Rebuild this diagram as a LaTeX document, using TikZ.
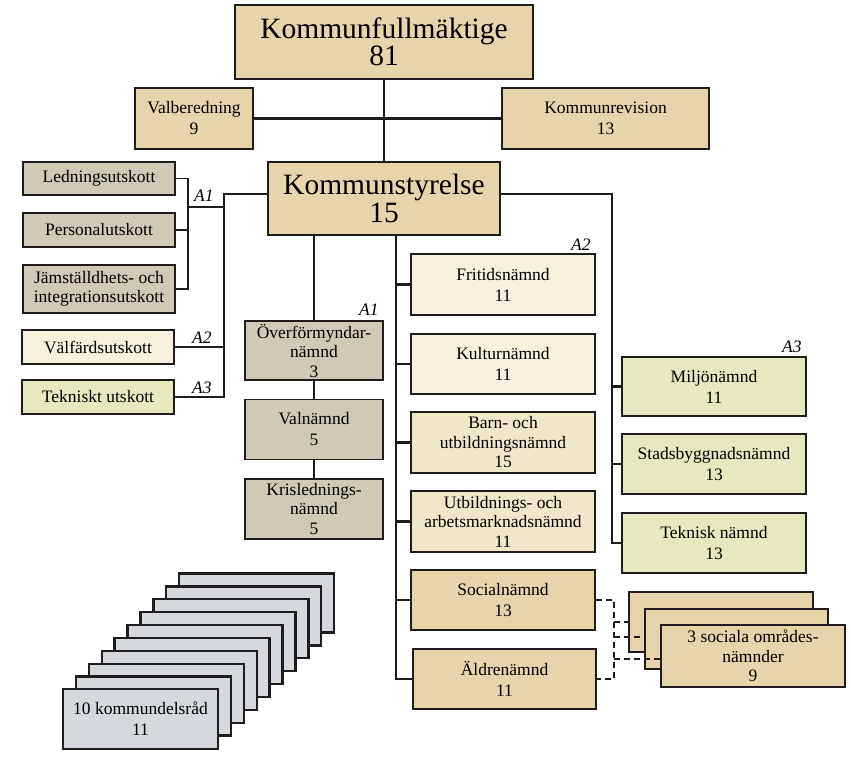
\documentclass[tikz,border=0pt]{standalone}
\usepackage{fontspec}
\setmainfont{Liberation Serif}
\usetikzlibrary{calc}
\definecolor{beige}{RGB}{230,213,170}
\definecolor{gragul}{RGB}{209,201,183}
\definecolor{creme}{RGB}{247,240,223}
\definecolor{ljusbeige}{RGB}{240,230,200}
\definecolor{gron}{RGB}{232,232,190}
\definecolor{blagra}{RGB}{213,216,220}
\definecolor{linje}{RGB}{30,28,28}
\tikzset{
  box/.style={draw=linje, line width=1.3pt, align=center, inner sep=0pt,
    font=\fontsize{17.5}{21}\selectfont},
  tre/.style={font=\fontsize{17.5}{19.5}\selectfont},
  bigbox/.style={box, font=\fontsize{29.5}{27.5}\selectfont},
  sz/.style 2 args={minimum width=#1pt, minimum height=#2pt},
  conn/.style={draw=linje, line width=2.3pt},
  streck/.style={conn, line width=1.8pt, dash pattern=on 6pt off 4pt},
  lab/.style={inner sep=0pt, anchor=base west, font=\fontsize{17.5}{20}\selectfont\itshape},
}

\begin{document}
\begin{tikzpicture}[x=1pt, y=-1pt]
	\useasboundingbox (0,0) rectangle (851,756);

	% fullmaktige och styrelse
	\node[bigbox, sz={298}{74}, fill=beige] (kf) at (384,42) {Kommunfullm\"aktige\\81};
	\node[box, sz={118}{61}, fill=beige] (valb) at (194,118.5) {Valberedning\\9};
	\node[box, sz={207}{61}, fill=beige] (krev) at (605.5,118.5) {Kommunrevision\\13};
	\node[bigbox, sz={232}{73}, fill=beige] (ks) at (384,198.5) {Kommunstyrelse\\15};

	\draw[conn] (kf) -- (ks);
	\draw[conn] (valb) -- (krev);

	% utskott
	\node[box, sz={152}{33}, fill=gragul] (led) at (99,178.5) {Ledningsutskott};
	\node[box, sz={152}{34}, fill=gragul] (pers) at (99,230) {Personalutskott};
	\node[box, tre, sz={152}{48}, fill=gragul] (jam) at (99,289) {J\"amst\"alldhets- och\\integrationsutskott};
	\node[box, sz={152}{34}, fill=creme] (valf) at (98,347) {V\"alf\"ardsutskott};
	\node[box, sz={152}{34}, fill=gron] (tekut) at (98,397) {Tekniskt utskott};

	\coordinate (klamm) at (188,207);
	\coordinate (vbuss) at (224,194);
	\draw[draw=linje, line width=1.2pt] (led.east) -| (klamm|-jam.east) -- (jam.east);
	\draw[draw=linje, line width=1.2pt] (pers.east) -- (pers.east-|klamm);
	\draw[conn] (klamm) -- (klamm-|vbuss);
	\draw[conn] (ks.west|-vbuss) -- (vbuss) |- (tekut.east);
	\draw[conn] (valf.east) -- (valf.east-|vbuss);

	\node[lab] (la1) at (194,201) {A1};
	\node[lab] (la2) at (192,343) {A2};
	\node[lab] (la3) at (192,393) {A3};

	% namnder A1
	\node[box, tre, sz={138}{59}, fill=gragul] (overf) at (314,350.5) {\"Overf\"ormyndar-\\n\"amnd\\3};
	\node[box, sz={138}{60}, fill=gragul] (valn) at (314,429.5) {Valn\"amnd\\5};
	\node[box, tre, sz={138}{60}, fill=gragul] (kris) at (314,509) {Krislednings-\\n\"amnd\\5};
	\node[lab] (lb1) at (359,315) {A1};

	\draw[conn] (ks.south-|overf) -- (overf);
	\draw[conn] (overf) -- (valn);
	\draw[conn] (valn) -- (kris);

	% namnder A2
	\node[box, sz={184}{61}, fill=creme] (frit) at (503,284.5) {Fritidsn\"amnd\\11};
	\node[box, sz={184}{60}, fill=creme] (kult) at (503,364) {Kulturn\"amnd\\11};
	\node[box, tre, sz={184}{61}, fill=ljusbeige] (barn) at (503,442.5) {Barn- och\\utbildningsn\"amnd\\15};
	\node[box, tre, sz={184}{61}, fill=ljusbeige] (utb) at (503,521.5) {Utbildnings- och\\arbetsmarknadsn\"amnd\\11};
	\node[box, sz={184}{60}, fill=beige] (soc) at (503,600) {Socialn\"amnd\\13};
	\node[box, sz={183}{60}, fill=beige] (aldr) at (504.5,679) {\"Aldren\"amnd\\11};
	\node[lab] (lc2) at (571,250) {A2};

	\coordinate (hbuss) at (396,0);
	\draw[conn] (ks.south-|hbuss) |- (aldr.west);
	\foreach \n in {frit,kult,barn,utb,soc}
		\draw[conn] (\n.west) -- (\n.west-|hbuss);

	% namnder A3
	\node[box, sz={184}{59}, fill=gron] (milj) at (714,386.5) {Milj\"on\"amnd\\11};
	\node[box, sz={184}{60}, fill=gron] (stad) at (714,464) {Stadsbyggnadsn\"amnd\\13};
	\node[box, sz={184}{60}, fill=gron] (tekn) at (714,543) {Teknisk n\"amnd\\13};
	\node[lab] (ld3) at (782,352) {A3};

	\coordinate (abuss) at (612,194);
	\draw[conn] (ks.east|-abuss) -- (abuss) |- (tekn.west);
	\draw[conn] (milj.west) -- (milj.west-|abuss);
	\draw[conn] (stad.west) -- (stad.west-|abuss);

	% omradesnamnder
	\node[box, sz={184}{60}, fill=beige] (som1) at (721,622) {};
	\node[box, sz={183}{60}, fill=beige] (som2) at (736.5,639) {};
	\node[box, tre, sz={184}{62}, fill=beige] (som3) at (753,656) {3 sociala omr\aa des-\\n\"amnder\\9};

	\coordinate (dbuss) at (614,0);
	\draw[streck] (soc.east) -| (dbuss|-aldr.east) -- (aldr.east);
	\draw[streck] (som1.west-|dbuss) -- (som1.west);
	\draw[streck] ($(som2.west-|dbuss)+(0,-2)$) -- ($(som2.west)+(0,-2)$);
	\draw[streck] ($(som3.west-|dbuss)+(0,3)$) -- ($(som3.west)+(0,3)$);

	% kommundelsrad
	\foreach \k in {9,...,1}
		\node[box, line width=2.4pt, sz={155}{59}, fill=blagra] (kdr\k) at (140.5+12.9*\k,719-12.9*\k) {};
	\node[box, line width=2.4pt, sz={155}{60}, fill=blagra] (kdr) at (140.5,719) {10 kommundelsr\aa d\\11};
\end{tikzpicture}
\end{document}
